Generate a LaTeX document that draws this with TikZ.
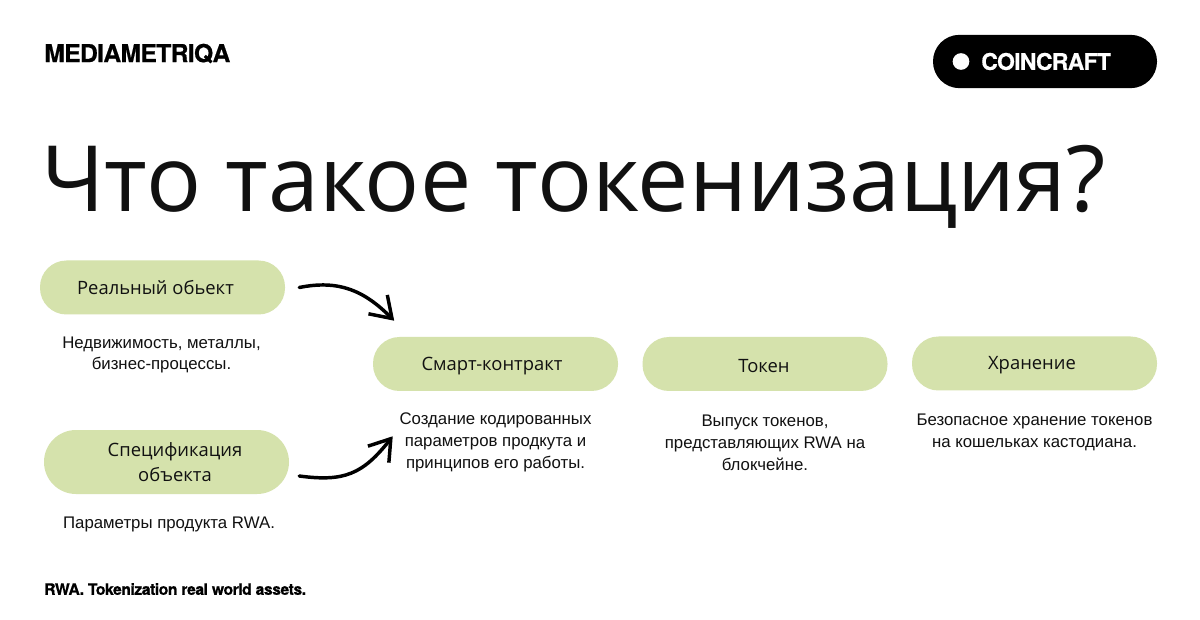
\documentclass[tikz,border=0pt]{standalone}
\usepackage{fontspec}
\usetikzlibrary{arrows.meta,calc}
\setmainfont{Open Sans}
\newfontfamily\descfont{Liberation Sans}
\newfontfamily\logofont[LetterSpace=-3,FakeBold=0.6]{TeX Gyre Heros}
\definecolor{pillgreen}{HTML}{D5E2AC}
\definecolor{ink}{HTML}{111111}
\tikzset{
  pill/.style={fill=pillgreen,rounded corners=26.5*0.75pt,minimum width=183.75pt,minimum height=40.5pt,inner sep=0pt},
  pilltext/.style={text=ink,font=\fontsize{13.8}{18.75}\selectfont,align=center,inner sep=0pt},
  desc/.style={text=ink,font=\descfont\fontsize{12.6}{16.4}\selectfont,align=center,inner sep=0pt},
  flow/.style={draw=black,line width=2.6pt,line cap=round,-{Straight Barb[length=15pt,width=20pt,line width=2.6pt]}}
}
\begin{document}
\begin{tikzpicture}[x=0.75pt,y=-0.75pt]
\path[use as bounding box,fill=white] (0,0) rectangle (1200,620);
\node[anchor=west,inner sep=0pt,text=black,font=\logofont\bfseries\fontsize{18.6}{20}\selectfont] (logo) at (44,53.5) {MEDIAMETRIQA};
\node[fill=black,rounded corners=26.5*0.75pt,minimum width=168pt,minimum height=40pt,inner sep=0pt] (badge) at (1045,61.5) {};
\node[circle,fill=white,minimum size=12.5pt,inner sep=0pt] (dot) at (961,61.5) {};
\node[anchor=west,inner sep=0pt,text=white,font=\logofont\bfseries\fontsize{17.2}{18}\selectfont] (coin) at (981,61.5) {COINCRAFT};
\node[anchor=base west,inner sep=0pt,text=ink,font=\fontsize{68.6}{72}\selectfont] (title) at (41,212) {Что такое токенизация?};

\node[pill] (real) at (162.5,287.5) {};
\node[pill,minimum height=48pt,rounded corners=24pt] (spec) at (166.5,462) {};
\node[pill] (smart) at (495.5,364) {};
\node[pill] (token) at (765,364) {};
\node[pill] (store) at (1034.5,363.5) {};

\node[pilltext] (realt) at (155.5,287.5) {Реальный обьект};
\node[pilltext] (spect) at (175,462.5) {Спецификация\\объекта};
\node[pilltext] (smartt) at (492,366) {Смарт-контракт};
\node[pilltext] (tokent) at (764,366) {Токен};
\node[pilltext] (storet) at (1032,365.5) {Хранение};

\node[desc] (reald) at (161.5,355) {Недвижимость, металлы,\\бизнес-процессы.};
\node[desc] (specd) at (169,524) {Параметры продукта RWA.};
\node[desc] (smartd) at (495.5,442.5) {Создание кодированных\\параметров продкута и\\принципов его работы.};
\node[desc] (tokend) at (765,442.5) {Выпуск токенов,\\представляющих RWA на\\блокчейне.};
\node[desc] (stored) at (1034.5,432) {Безопасное хранение токенов\\на кошельках кастодиана.};

\node[anchor=west,inner sep=0pt,text=black,font=\logofont\bfseries\fontsize{11.8}{14}\selectfont] (foot) at (44,589) {RWA. Tokenization real world assets.};

\coordinate (realout) at ($(real.east)+(14,0)$);
\coordinate (smartin) at ($(smart.north west)+(21.5,-16)$);
\coordinate (specout) at ($(spec.east)+(10,14)$);
\coordinate (smartin2) at ($(smart.south west)+(20,45)$);
\draw[flow] (realout) .. controls +(40,-8) and +(-30,-30) .. (smartin);
\draw[flow] (specout) .. controls +(45,6) and +(-30,38) .. (smartin2);
\end{tikzpicture}
\end{document}
